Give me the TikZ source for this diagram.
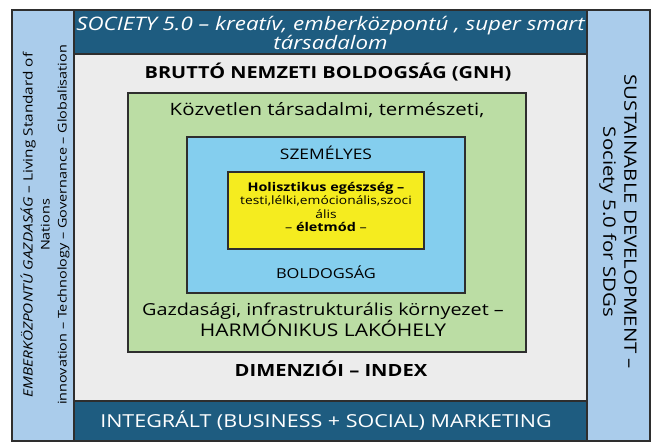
\documentclass[tikz,border=0pt]{standalone}
\usepackage{fontspec}
\setmainfont{Open Sans}[FakeStretch=1.2]
\definecolor{darkbar}{HTML}{1E5C80}
\definecolor{sidebar}{HTML}{AACCEB}
\definecolor{greybg}{HTML}{ECECEC}
\definecolor{greenbg}{HTML}{BBDDA4}
\definecolor{bluebg}{HTML}{84CEEE}
\definecolor{yellowbg}{HTML}{F5EC1F}
\definecolor{edge}{HTML}{2E2E2E}
\tikzset{
  panel/.style={draw=edge, line width=1.2pt},
  txt/.style={inner sep=0pt, align=center, text=black},
  wtxt/.style={inner sep=0pt, align=center, text=white},
}
\newcommand{\fs}[2]{\fontsize{#1}{#2}\selectfont}
\begin{document}
\begin{tikzpicture}[x=1pt,y=-1pt]
\useasboundingbox (0,0) rectangle (657,443);
\fill[white] (0,0) rectangle (657,443);
% side bars
\draw[panel, fill=sidebar] (12,10) rectangle (74,441);
\draw[panel, fill=sidebar] (587,10) rectangle (650,441);
% top/bottom bars
\draw[panel, fill=darkbar] (74,10) rectangle (587,54);
\draw[panel, fill=darkbar] (74,401) rectangle (587,441);
% grey area
\draw[panel, fill=greybg] (74,54) rectangle (587,401);
% nested boxes
\draw[panel, fill=greenbg] (128,93) rectangle (526,352);
\draw[panel, fill=bluebg] (187,137) rectangle (465,293);
\draw[panel, fill=yellowbg] (228,172) rectangle (424,249);

% texts
\node[wtxt, font=\fs{18.6}{19.5}\itshape] (soc) at (330.5,33) {SOCIETY 5.0 -- kreatív, emberközpontú , super smart\\ társadalom};
\node[txt, font=\fs{16.6}{20}\bfseries] (gnh) at (328,72) {BRUTTÓ NEMZETI BOLDOGSÁG (GNH)};
\node[txt, font=\fs{17}{20}] (kozv) at (327,110) {Közvetlen társadalmi, természeti,};
\node[txt, font=\fs{14.5}{16}] (szem) at (326,153) {SZEMÉLYES};
\node[txt, font=\fs{11.5}{13.5}] (holi) at (326,207) {{\fs{12}{14}\bfseries Holisztikus egészség --}\\
  testi,lélki,emócionális,szoci\\ ális\\
  {\fs{12}{14}-- \textbf{életmód} --}};
\node[txt, font=\fs{13.7}{16}] (bold) at (326,272) {BOLDOGSÁG};
\node[txt, font=\fs{16.5}{20}] (gazd) at (323,320) {Gazdasági, infrastrukturális környezet --\\ {\fs{17.5}{20}HARMÓNIKUS LAKÓHELY}};
\node[txt, font=\fs{16.8}{18}\bfseries] (dim) at (331,369) {DIMENZIÓI -- INDEX};
\node[wtxt, font=\fs{17.9}{20}] (mkt) at (326,421) {INTEGRÁLT (BUSINESS + SOCIAL) MARKETING};
\node[txt, rotate=90, font=\fs{12}{17}] (left) at (45,225) {{\fs{12.8}{17}\textit{EMBERKÖZPONTÚ GAZDASÁG} -- Living Standard of}\\ Nations\\ innovation -- Technology -- Governance -- Globalisation};
\node[txt, rotate=-90, font=\fs{17}{21}] (right) at (618,222) {SUSTAINABLE DEVELOPMENT --\\ Society 5.0 for SDGs};
\end{tikzpicture}
\end{document}
